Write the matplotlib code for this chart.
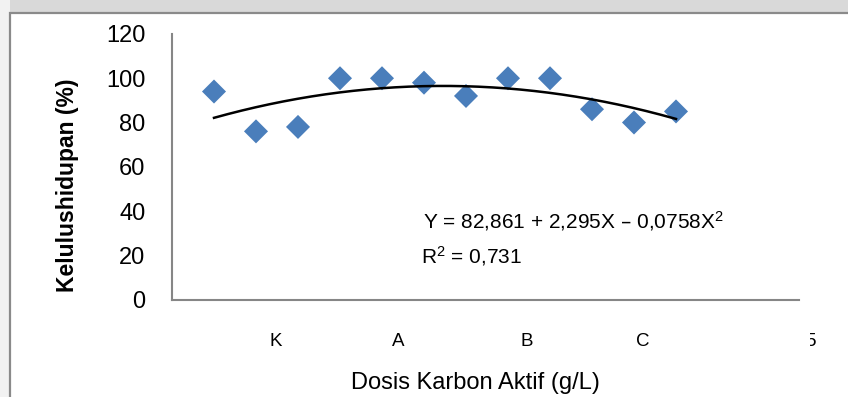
import matplotlib.pyplot as plt
import matplotlib.patches as mpatches
from matplotlib import font_manager
import numpy as np

# data
dosis = [1, 2, 3, 4, 5, 6, 7, 8, 9, 10, 11, 12]
kelulushidupan = [94, 76, 78, 100, 100, 98, 92, 100, 100, 86, 80, 85]
y_ticks = [0, 20, 40, 60, 80, 100, 120]
x_labels = ["K", "A", "B", "C", "5"]
x_label_pos = [2.48, 5.38, 8.45, 11.21, 15.2]

names = {f.name for f in font_manager.fontManager.ttflist}
narrow = "Liberation Sans Narrow" if "Liberation Sans Narrow" in names else "Liberation Sans"

plt.rcParams["font.family"] = ["Liberation Sans", "DejaVu Sans"]
plt.rcParams["mathtext.default"] = "regular"

W, H = 848, 397
fig = plt.figure(figsize=(W / 100, H / 100), dpi=100)
fig.patch.set_facecolor("white")


def px(x, y):
    return x / W, 1 - y / H


# page background and the framed chart area
fig.patches.append(mpatches.Rectangle((0, 1 - 14 / H), 1, 14 / H, transform=fig.transFigure,
                                      facecolor="#d9d9d9", edgecolor="none", zorder=0))
fig.patches.append(mpatches.Rectangle((0, 0), 10 / W, 1, transform=fig.transFigure,
                                      facecolor="#f2f2f2", edgecolor="none", zorder=0))
fig.patches.append(mpatches.Rectangle(px(10, 420), 900 / W, (420 - 13) / H, transform=fig.transFigure,
                                      facecolor="white", edgecolor="#8a8a8a", linewidth=1.6, zorder=1))

xmax = 15.3
ax = fig.add_axes([172 / W, 97.5 / H, 42 * xmax / W, 265.5 / H])
ax.set_facecolor("none")
ax.set_zorder(2)

ax.scatter(dosis, kelulushidupan, marker="D", s=150, color="#4a7ebb", edgecolors="none", zorder=3)

# polynomial trendline (order 2) fitted to the points
coef = np.polyfit(dosis, kelulushidupan, 2)
xs = np.linspace(min(dosis), max(dosis), 200)
ax.plot(xs, np.polyval(coef, xs), color="black", linewidth=1.8, zorder=4)

ax.set_xlim(0, xmax)
ax.set_ylim(0, 120)
ax.set_yticks(y_ticks)
ax.set_yticklabels([str(v) for v in y_ticks], fontsize=17, family=narrow)
ax.tick_params(axis="y", length=0, pad=19)
ax.set_xticks(x_label_pos)
ax.set_xticklabels(x_labels, fontsize=13.5)
ax.tick_params(axis="x", length=0, pad=24)

for s in ["top", "right"]:
    ax.spines[s].set_visible(False)
for s in ["left", "bottom"]:
    ax.spines[s].set_color("#868686")
    ax.spines[s].set_linewidth(1.5)
ax.spines["bottom"].set_bounds(0, 14.93)

ax.set_ylabel("Kelulushidupan (%)", fontsize=16.5, fontweight="bold")
ax.yaxis.set_label_coords((79 - 172) / (42 * xmax), (299.5 - 185) / 265.5)
ax.set_xlabel("Dosis Karbon Aktif (g/L)", fontsize=17, family=narrow)
ax.xaxis.set_label_coords((475 - 172) / (42 * xmax), -(372 - 299.5) / 265.5)

fig.text(*px(423, 221), "Y = 82,861 + 2,295X \u2013 0,0758X$^2$", fontsize=15, va="center", ha="left")
fig.text(*px(421, 256), "R$^2$ = 0,731", fontsize=15, va="center", ha="left")

# the last x label is partly hidden in the reference
fig.patches.append(mpatches.Rectangle(px(799, 354), 10.5 / W, 26 / H, transform=fig.transFigure,
                                      facecolor="white", edgecolor="none", zorder=10))

fig.savefig("out.png", dpi=100)
